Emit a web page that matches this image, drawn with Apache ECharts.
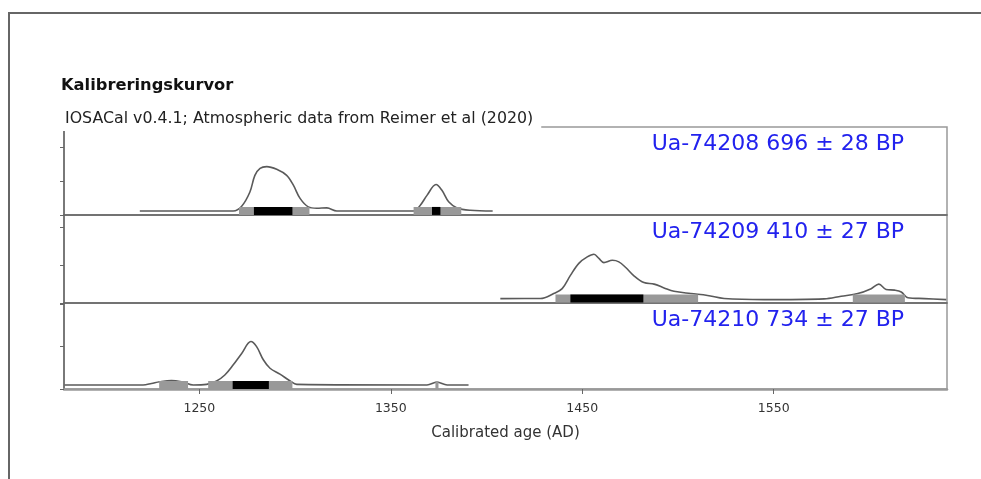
<!DOCTYPE html>
<html><head><meta charset="utf-8">
<script src="https://cdn.jsdelivr.net/npm/echarts@6/dist/echarts.min.js"></script>
<style>html,body{margin:0;padding:0;background:#fff}#c{width:981px;height:479px}</style>
</head><body><div id="c"></div>
<script>
// ---- text ----
const titleText = 'Kalibreringskurvor';
const subtitleText = 'IOSACal v0.4.1; Atmospheric data from Reimer et al (2020)';
const xAxisName = 'Calibrated age (AD)';
const xTickValues = [1250, 1350, 1450, 1550];
const xMin = 1179.3, xMax = 1640.5;

// ---- samples ----
const sampleIds = ['Ua-74208', 'Ua-74209', 'Ua-74210'];
const bpAges = [696, 410, 734];
const bpErrors = [28, 27, 27];

// ---- calibrated probability curves [year, relative density] ----
const curve74208 = [[1218.9,0.12],[1267.7,0.12],[1272.1,0.26],[1276.4,0.68],[1279.0,1.17],[1281.7,1.38],[1285.2,1.43],[1290.4,1.35],[1295.6,1.17],[1299.1,0.88],[1302.6,0.49],[1306.9,0.24],[1311.3,0.2],[1316.6,0.21],[1321.8,0.12],[1361.9,0.12],[1365.4,0.29],[1368.9,0.58],[1373.6,0.90],[1376.7,0.73],[1380.2,0.39],[1384.6,0.21],[1391.5,0.14],[1403.2,0.12]];
const curve74209 = [[1407.2,0.117],[1428.1,0.12],[1435.1,0.25],[1439.5,0.38],[1443.8,0.73],[1448.2,1.05],[1452.6,1.22],[1456.1,1.29],[1458.7,1.18],[1461.3,1.07],[1465.7,1.13],[1469.1,1.09],[1472.7,0.94],[1477.0,0.72],[1482.2,0.54],[1487.5,0.50],[1492.7,0.40],[1497.9,0.31],[1506.7,0.25],[1515.4,0.20],[1524.1,0.12],[1545.0,0.09],[1576.4,0.11],[1585.2,0.18],[1593.9,0.25],[1600.9,0.38],[1604.9,0.50],[1608.7,0.36],[1613.1,0.34],[1616.6,0.29],[1620.1,0.14],[1628.8,0.117],[1640.1,0.09]];
const curve74210 = [[1179.6,0.095],[1220.6,0.095],[1225.0,0.13],[1229.3,0.17],[1235.4,0.20],[1241.5,0.16],[1246.8,0.095],[1253.8,0.11],[1259.0,0.19],[1263.3,0.33],[1267.7,0.57],[1272.1,0.84],[1276.9,1.12],[1279.9,1.0],[1283.4,0.69],[1286.9,0.49],[1292.1,0.35],[1297.4,0.19],[1300.9,0.11],[1368.9,0.095],[1374.1,0.16],[1379.4,0.095],[1390.6,0.095]];

// ---- HPD ranges (years) ----
const sigma2_74208 = [[1270.7,1307.5],[1361.9,1386.8]];
const sigma1_74208 = [[1278.5,1298.6],[1371.5,1375.9]];
const sigma2_74209 = [[1436.0,1510.5],[1591.3,1618.5]];
const sigma1_74209 = [[1443.8,1481.9]];
const sigma2_74210 = [[1229.0,1244.1],[1254.6,1298.6],[1373.3,1374.9]];
const sigma1_74210 = [[1267.4,1286.3]];

// ---- per-panel y scale ----
const yMaxes = [2.6, 2.33, 2.03];
const yTickValues = [[0,1,2],[0,1,2],[0,1,2]];
const barLevels = [0.12, 0.12, 0.095];

const curves = [curve74208, curve74209, curve74210];
const sigma2s = [sigma2_74208, sigma2_74209, sigma2_74210];
const sigma1s = [sigma1_74208, sigma1_74209, sigma1_74210];

const FONT = 'DejaVu Sans';
const gridTops = [127, 215, 303];
const gridHeights = [88, 88, 86];

function barSeries(ranges, color, idx) {
  return {
    type: 'custom', xAxisIndex: idx, yAxisIndex: idx, z: 5, silent: true,
    data: ranges.map(r => [r[0], r[1], barLevels[idx]]),
    encode: { x: [0, 1], y: 2 },
    renderItem: (params, api) => {
      const a = api.coord([api.value(0), api.value(2)]);
      const b = api.coord([api.value(1), api.value(2)]);
      return { type: 'rect', shape: { x: a[0], y: a[1] - 4, width: b[0] - a[0], height: 8 }, style: { fill: color } };
    }
  };
}

const grids = [], xAxes = [], yAxes = [], series = [], labels = [];
for (let i = 0; i < 3; i++) {
  const last = i === 2;
  grids.push({ left: 64, right: 34, top: gridTops[i], height: gridHeights[i], show: true, borderColor: '#999', borderWidth: 1.5 });
  xAxes.push({
    type: 'value', gridIndex: i, min: xMin, max: xMax,
    axisLine: { show: true, onZero: false, lineStyle: { color: last ? '#999' : '#666', width: last ? 2.5 : 1.5 } },
    axisTick: { show: last, customValues: xTickValues, length: 5, lineStyle: { color: '#666' } },
    axisLabel: { show: last, customValues: xTickValues, margin: 13, fontFamily: FONT, fontSize: 12.5, color: '#333',
      formatter: v => String(v) },
    splitLine: { show: false },
    name: last ? xAxisName : '', nameLocation: 'middle', nameGap: 37,
    nameTextStyle: { fontFamily: FONT, fontSize: 15, color: '#333' }
  });
  yAxes.push({
    type: 'value', gridIndex: i, min: 0, max: yMaxes[i],
    axisLine: { show: true, lineStyle: { color: '#666', width: 1.5 } },
    axisTick: { show: true, customValues: yTickValues[i], length: 4, lineStyle: { color: '#666' } },
    axisLabel: { show: false }, splitLine: { show: false }
  });
  series.push({
    type: 'line', xAxisIndex: i, yAxisIndex: i, data: curves[i], showSymbol: false, smooth: 0.35,
    lineStyle: { color: '#5a5a5a', width: 1.6 }, z: 3, silent: true
  });
  series.push(barSeries(sigma2s[i], '#999999', i));
  series.push(barSeries(sigma1s[i], '#000000', i));
  labels.push({
    type: 'text', x: 904, y: gridTops[i] + 17, z: 10,
    style: { text: sampleIds[i] + ' ' + bpAges[i] + ' \u00b1 ' + bpErrors[i] + ' BP', fill: '#2222ee', font: '22px "' + FONT + '"', align: 'right', verticalAlign: 'middle' }
  });
}

const chart = echarts.init(document.getElementById('c'), null, { renderer: 'canvas' });
chart.setOption({
  backgroundColor: '#fff',
  animation: false,
  title: [
    { text: titleText, left: 61, top: 78, padding: 0, textStyle: { fontFamily: FONT, fontSize: 16.3, fontWeight: 'bold', color: '#111' } },
    { text: subtitleText, left: 62, top: 108, padding: [3, 8, 4, 3], backgroundColor: '#fff', z: 8,
      textStyle: { fontFamily: FONT, fontSize: 15.8, fontWeight: 'normal', color: '#222' } }
  ],
  grid: grids, xAxis: xAxes, yAxis: yAxes, series: series,
  graphic: [
    { type: 'line', shape: { x1: 8, y1: 13, x2: 981, y2: 13 }, style: { stroke: '#666', lineWidth: 2 }, z: 10 },
    { type: 'line', shape: { x1: 9, y1: 13, x2: 9, y2: 479 }, style: { stroke: '#666', lineWidth: 2 }, z: 10 }
  ].concat(labels)
});
</script></body></html>
